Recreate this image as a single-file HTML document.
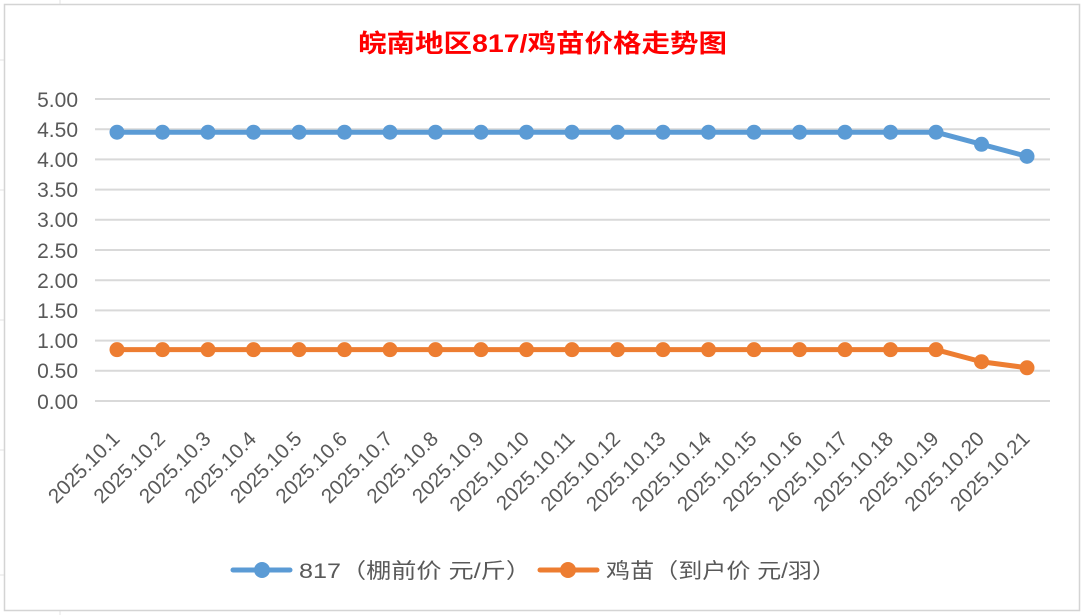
<!DOCTYPE html>
<html><head><meta charset="utf-8"><style>
html,body{margin:0;padding:0;background:#fff;}
svg{display:block;font-family:"Liberation Sans","Noto Sans CJK SC",sans-serif;}
</style></head><body>
<svg width="1084" height="615" viewBox="0 0 1084 615">
<rect x="0" y="0" width="1084" height="615" fill="#fff"/>
<g stroke="#e3e3e3" stroke-width="1">
<line x1="0" y1="60" x2="4" y2="60"/><line x1="0" y1="190" x2="4" y2="190"/><line x1="0" y1="320" x2="4" y2="320"/><line x1="0" y1="450" x2="4" y2="450"/><line x1="0" y1="575" x2="4" y2="575"/>
<line x1="60" y1="0" x2="60" y2="4"/><line x1="60" y1="611" x2="60" y2="615"/>
</g>
<rect x="4.5" y="4.5" width="1075" height="606" fill="#fff" stroke="#d4d4d4" stroke-width="1.5"/>
<text x="358" y="52" font-size="25" fill="#ff0000" font-weight="bold" textLength="369" lengthAdjust="spacingAndGlyphs">皖南地区817/鸡苗价格走势图</text>
<g stroke="#d9d9d9" stroke-width="2">
<line x1="95" y1="99" x2="1050" y2="99"/><line x1="95" y1="129.2" x2="1050" y2="129.2"/><line x1="95" y1="159.4" x2="1050" y2="159.4"/><line x1="95" y1="189.6" x2="1050" y2="189.6"/><line x1="95" y1="219.8" x2="1050" y2="219.8"/><line x1="95" y1="250" x2="1050" y2="250"/><line x1="95" y1="280.2" x2="1050" y2="280.2"/><line x1="95" y1="310.4" x2="1050" y2="310.4"/><line x1="95" y1="340.6" x2="1050" y2="340.6"/><line x1="95" y1="370.8" x2="1050" y2="370.8"/><line x1="95" y1="401" x2="1050" y2="401"/>
</g>
<g font-size="21" fill="#595959" text-anchor="end">
<text x="78" y="107">5.00</text><text x="78" y="137">4.50</text><text x="78" y="167">4.00</text><text x="78" y="197">3.50</text><text x="78" y="227">3.00</text><text x="78" y="258">2.50</text><text x="78" y="288">2.00</text><text x="78" y="318">1.50</text><text x="78" y="348">1.00</text><text x="78" y="378">0.50</text><text x="78" y="409">0.00</text>
</g>
<g id="xl" font-size="20.5" fill="#595959" text-anchor="end"></g>
<polyline fill="none" stroke="#5b9bd5" stroke-width="5" stroke-linejoin="round" id="s1"/>
<polyline fill="none" stroke="#ed7d31" stroke-width="5" stroke-linejoin="round" id="s2"/>
<g id="m1" fill="#5b9bd5"></g><g id="m2" fill="#ed7d31"></g>
<line x1="233" y1="570" x2="290" y2="570" stroke="#5b9bd5" stroke-width="5" stroke-linecap="round"/>
<circle cx="262" cy="570" r="8" fill="#5b9bd5"/>
<text x="299" y="578" font-size="21" fill="#595959" textLength="232" lengthAdjust="spacingAndGlyphs">817（棚前价 元/斤）</text>
<line x1="540" y1="570" x2="597" y2="570" stroke="#ed7d31" stroke-width="5" stroke-linecap="round"/>
<circle cx="568" cy="570" r="8" fill="#ed7d31"/>
<text x="606" y="578" font-size="21" fill="#595959" textLength="230" lengthAdjust="spacingAndGlyphs">鸡苗（到户价 元/羽）</text>
<script>
var ns="http://www.w3.org/2000/svg";
var a=[],b=[];for(var i=0;i<21;i++){a.push(i<19?4.45:(i==19?4.25:4.05));b.push(i<19?0.85:(i==19?0.65:0.55));}
function Y(v){return 401-v*60.4;}
var p1=[],p2=[];
for(var i=0;i<21;i++){var x=117+i*45.5;p1.push(x+","+Y(a[i]));p2.push(x+","+Y(b[i]));
[[a,"m1"],[b,"m2"]].forEach(function(s){var c=document.createElementNS(ns,"circle");c.setAttribute("cx",x);c.setAttribute("cy",Y(s[0][i]));c.setAttribute("r",7.5);document.getElementById(s[1]).appendChild(c);});
var t=document.createElementNS(ns,"text");var tx=x+4,ty=440;t.setAttribute("x",tx);t.setAttribute("y",ty);t.setAttribute("transform","rotate(-45 "+tx+" "+ty+")");t.textContent="2025.10."+(i+1);document.getElementById("xl").appendChild(t);}
document.getElementById("s1").setAttribute("points",p1.join(" "));
document.getElementById("s2").setAttribute("points",p2.join(" "));
</script>
</svg>
</body></html>
